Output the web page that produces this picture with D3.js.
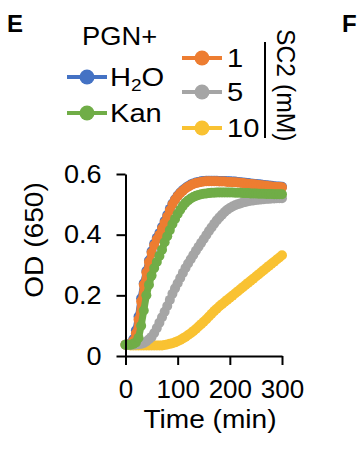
<!DOCTYPE html>
<html><head><meta charset="utf-8">
<script src="https://cdn.jsdelivr.net/npm/d3@7"></script>
<style>
html,body{margin:0;padding:0;background:#fff;}
svg{display:block;}
text{font-family:"Liberation Sans",Arial,Helvetica,sans-serif;fill:#000;}
</style>
</head><body>
<svg id="c" width="358" height="462"></svg>
<script>
// ---- data ----
const timeMin = [0,5,10,15,20,25,30,35,40,45,50,55,60,65,70,75,80,85,90,95,100,105,110,115,120,125,130,135,140,145,150,155,160,165,170,175,180,185,190,195,200,205,210,215,220,225,230,235,240,245,250,255,260,265,270,275,280,285,290,295,300];
const odH2O = [0.037,0.038,0.042,0.055,0.085,0.13,0.19,0.24,0.28,0.315,0.345,0.37,0.39,0.405,0.425,0.445,0.465,0.485,0.503,0.517,0.529,0.539,0.547,0.554,0.56,0.565,0.569,0.572,0.574,0.576,0.577,0.578,0.578,0.578,0.578,0.578,0.577,0.577,0.577,0.576,0.576,0.575,0.575,0.574,0.573,0.572,0.571,0.570,0.569,0.568,0.567,0.566,0.565,0.564,0.563,0.562,0.561,0.560,0.559,0.559,0.558];
const odKan = [0.037,0.037,0.037,0.04,0.045,0.06,0.10,0.15,0.20,0.235,0.265,0.29,0.31,0.33,0.35,0.375,0.395,0.415,0.435,0.452,0.468,0.482,0.495,0.505,0.513,0.519,0.524,0.528,0.531,0.533,0.535,0.536,0.537,0.538,0.538,0.539,0.539,0.539,0.539,0.539,0.539,0.539,0.538,0.538,0.538,0.537,0.537,0.537,0.536,0.536,0.536,0.535,0.535,0.535,0.534,0.534,0.534,0.533,0.533,0.533,0.533];
const odSC2_1 = [0.037,0.037,0.04,0.05,0.075,0.12,0.18,0.235,0.275,0.31,0.34,0.365,0.385,0.40,0.42,0.44,0.46,0.48,0.50,0.515,0.527,0.537,0.545,0.552,0.558,0.563,0.567,0.570,0.572,0.574,0.575,0.576,0.576,0.576,0.576,0.576,0.575,0.575,0.575,0.574,0.574,0.573,0.573,0.572,0.571,0.570,0.569,0.568,0.567,0.566,0.565,0.564,0.563,0.562,0.561,0.560,0.559,0.558,0.557,0.557,0.556];
const odSC2_5 = [0.037,0.037,0.037,0.037,0.038,0.039,0.04,0.043,0.048,0.055,0.063,0.076,0.092,0.11,0.128,0.146,0.165,0.185,0.205,0.223,0.24,0.257,0.274,0.29,0.305,0.319,0.333,0.347,0.36,0.373,0.386,0.399,0.412,0.424,0.436,0.447,0.457,0.466,0.475,0.482,0.488,0.493,0.497,0.5,0.503,0.506,0.508,0.51,0.512,0.513,0.514,0.515,0.516,0.517,0.518,0.518,0.519,0.519,0.52,0.52,0.52];
const odSC2_10 = [0.037,0.036,0.035,0.035,0.035,0.035,0.035,0.035,0.035,0.035,0.035,0.035,0.035,0.035,0.035,0.036,0.038,0.04,0.042,0.045,0.049,0.053,0.058,0.063,0.069,0.075,0.082,0.089,0.097,0.105,0.113,0.121,0.13,0.139,0.148,0.156,0.164,0.171,0.178,0.185,0.192,0.199,0.206,0.213,0.22,0.227,0.234,0.241,0.248,0.255,0.262,0.269,0.276,0.283,0.29,0.297,0.304,0.311,0.318,0.325,0.332];
const xTicks = [0,100,200,300];
const yTicks = [0,0.2,0.4,0.6];
const leftLegend = ["H2O","Kan"];
const rightLegend = ["1","5","10"];

const C = {H2O:"#4472C4", Kan:"#70AD47", s1:"#ED7D31", s5:"#A5A5A5", s10:"#F9C232"};
const FS = 26;   // font size
const K = 1.12;  // horizontal stretch of word text

const svg = d3.select("#c");
function stretch(sel, k){
  sel.each(function(){
    const l = this.getComputedTextLength();
    d3.select(this).attr("textLength", l*k).attr("lengthAdjust","spacingAndGlyphs");
  });
}

const x = d3.scaleLinear().domain([0,300]).range([125.5,282]);
const y = d3.scaleLinear().domain([0,0.6]).range([356,174]);

// series (draw order)
const series = [
  {vals: odH2O, color: C.H2O},
  {vals: odSC2_1, color: C.s1},
  {vals: odSC2_10, color: C.s10},
  {vals: odSC2_5, color: C.s5},
  {vals: odKan, color: C.Kan}
];
const line = d3.line().x((d,i)=>x(timeMin[i])).y(d=>y(d));
const gPlot = svg.append("g");
series.forEach(s=>{
  const g = gPlot.append("g");
  g.append("path").attr("d", line(s.vals)).attr("fill","none")
    .attr("stroke", s.color).attr("stroke-width",7).attr("stroke-linejoin","round").attr("stroke-linecap","round");
  g.selectAll("circle").data(s.vals).join("circle")
    .attr("cx",(d,i)=>x(timeMin[i])).attr("cy",d=>y(d)).attr("r",5).attr("fill",s.color);
});

// axes
const yAxis = svg.append("g").attr("transform","translate(125.5,0)")
  .call(d3.axisLeft(y).tickValues(yTicks).tickSize(9).tickSizeOuter(0).tickPadding(15)
    .tickFormat(d => d===0 ? "0" : d3.format(".1f")(d)));
const xAxis = svg.append("g").attr("transform","translate(0,356)")
  .call(d3.axisBottom(x).tickValues(xTicks).tickSize(9).tickSizeOuter(0).tickPadding(15)
    .tickFormat(d3.format("d")));
[yAxis, xAxis].forEach(a=>{
  a.attr("font-size",null).attr("font-family",null);
  a.selectAll("path,line").attr("stroke","#000").attr("stroke-width",2);
  a.selectAll("text").attr("font-size",FS).attr("fill","#000");
});
stretch(yAxis.selectAll("text"), 1.04);
stretch(xAxis.selectAll("text"), 1.0);

// axis titles
const yt = svg.append("text").attr("transform","translate(43,240) rotate(-90)")
  .attr("text-anchor","middle").attr("font-size",FS).text("OD (650)");
stretch(yt, 1.08);
const xt = svg.append("text").attr("x",210).attr("y",428)
  .attr("text-anchor","middle").attr("font-size",FS).text("Time (min)");
stretch(xt, 1.08);

// panel letters
svg.append("text").attr("x",7).attr("y",32).attr("font-size",24).attr("font-weight","bold").text("E");
svg.append("text").attr("x",342).attr("y",32).attr("font-size",24).attr("font-weight","bold").text("F");

// legend
const pg = svg.append("text").attr("x",82).attr("y",45).attr("font-size",FS).text("PGN+");
stretch(pg, 1.05);
const legL = [{name:leftLegend[0], color:C.H2O, cy:77},{name:leftLegend[1], color:C.Kan, cy:113}];
const legR = [{name:rightLegend[0], color:C.s1, cy:58},{name:rightLegend[1], color:C.s5, cy:92},{name:rightLegend[2], color:C.s10, cy:128}];
function legendItem(it, x0, x1, tx){
  svg.append("line").attr("x1",x0).attr("x2",x1).attr("y1",it.cy).attr("y2",it.cy)
    .attr("stroke",it.color).attr("stroke-width",4);
  svg.append("circle").attr("cx",(x0+x1)/2).attr("cy",it.cy).attr("r",7.5).attr("fill",it.color);
  const t = svg.append("text").attr("x",tx).attr("y",it.cy+9.3).attr("font-size",FS);
  if(it.name==="H2O"){
    t.append("tspan").text("H");
    t.append("tspan").attr("font-size",17).attr("dy",5).text("2");
    t.append("tspan").attr("dy",-5).text("O");
  } else t.text(it.name);
  stretch(t, K);
}
legL.forEach(it=>legendItem(it,67,107,110));
legR.forEach(it=>legendItem(it,182,222,227));
svg.append("line").attr("x1",265).attr("x2",265).attr("y1",42).attr("y2",138)
  .attr("stroke","#000").attr("stroke-width",2);
const sc = svg.append("text").attr("transform","translate(277,29) rotate(90)")
  .attr("font-size",FS).text("SC2 (mM)");
stretch(sc, 0.95);
</script>
</body></html>
